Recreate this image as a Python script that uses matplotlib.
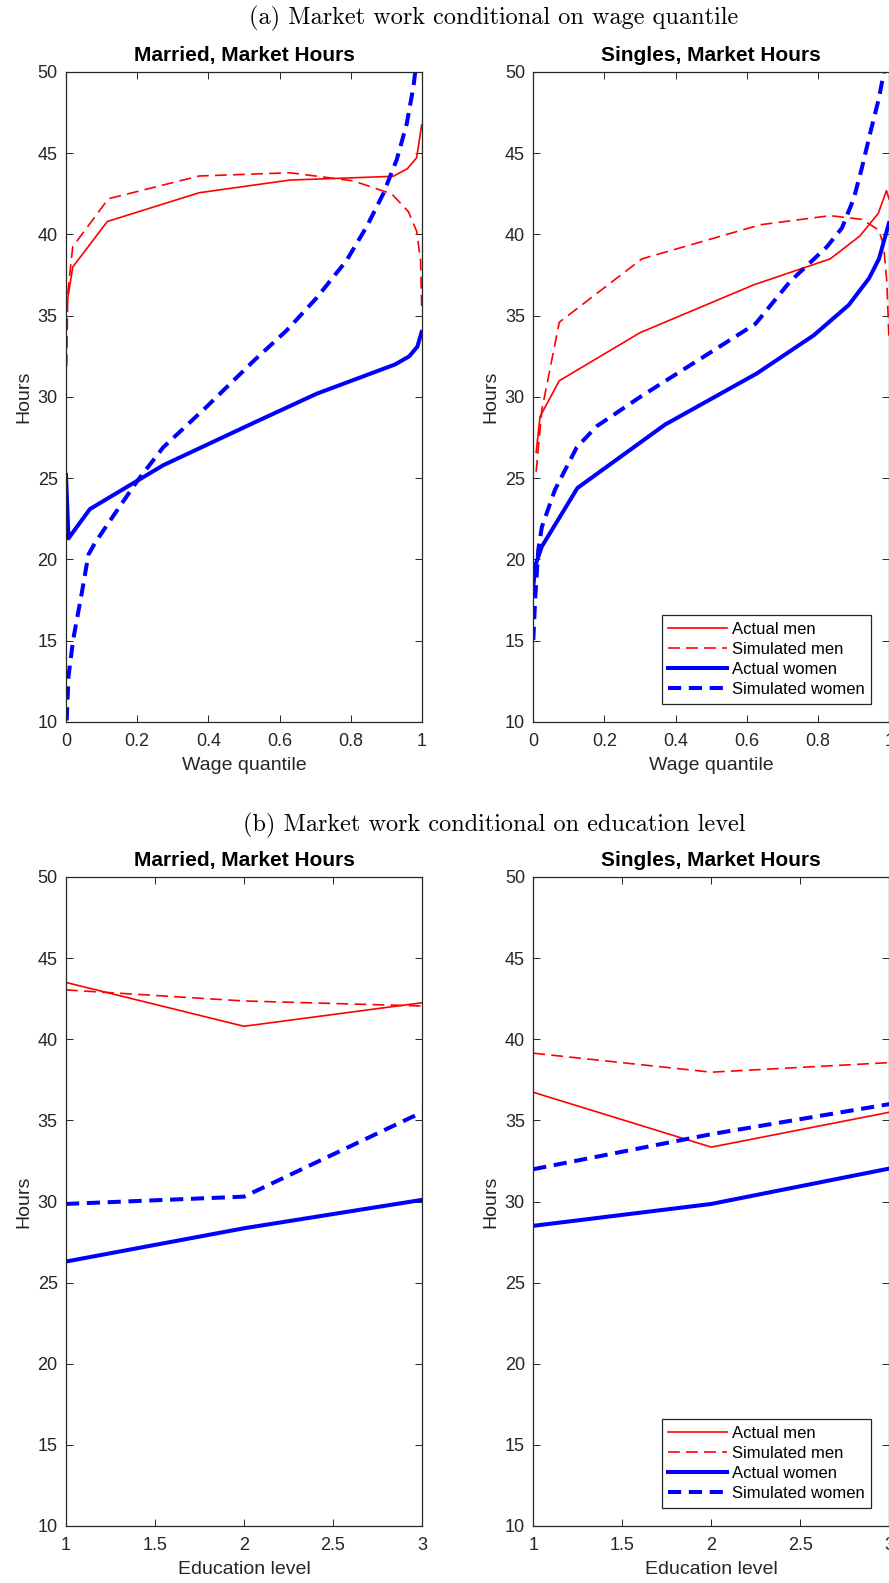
import matplotlib
matplotlib.use('Agg')
import matplotlib.pyplot as plt

plt.rcParams['font.family'] = ['Liberation Sans', 'DejaVu Sans']
plt.rcParams['lines.scale_dashes'] = False

# --- data -----------------------------------------------------------------
# (a) married, by wage quantile
mar_men_act_q = [0.003, 0.019, 0.116, 0.374, 0.629, 0.919, 0.959, 0.985, 0.999]
mar_men_act_h = [35.8, 38.0, 40.8, 42.57, 43.35, 43.58, 44.05, 44.73, 46.74]
mar_men_sim_q = [0.002, 0.005, 0.019, 0.119, 0.374, 0.629, 0.807, 0.915, 0.962, 0.985, 0.996, 0.999]
mar_men_sim_h = [31.9, 36.4, 39.25, 42.2, 43.6, 43.8, 43.3, 42.5, 41.4, 40.2, 38.4, 35.6]
mar_wom_act_q = [0.0, 0.007, 0.067, 0.273, 0.536, 0.704, 0.924, 0.964, 0.987, 0.999]
mar_wom_act_h = [25.2, 21.3, 23.1, 25.8, 28.5, 30.2, 32.0, 32.5, 33.1, 34.0]
mar_wom_sim_q = [0.002, 0.007, 0.02, 0.044, 0.063, 0.081, 0.124, 0.199, 0.273, 0.395,
                 0.526, 0.62, 0.704, 0.788, 0.845, 0.891, 0.929, 0.957, 0.976, 0.992, 0.999]
mar_wom_sim_h = [10.1, 12.8, 15.05, 17.9, 20.3, 21.0, 22.4, 24.8, 26.9, 29.4,
                 32.2, 34.1, 36.1, 38.4, 40.5, 42.5, 44.6, 46.8, 49.1, 52.0, 58.0]

# (a) singles, by wage quantile
sin_men_act_q = [0.008, 0.019, 0.073, 0.300, 0.619, 0.834, 0.917, 0.969, 0.992, 0.999]
sin_men_act_h = [26.6, 28.8, 31.0, 33.96, 36.9, 38.5, 39.9, 41.3, 42.7, 42.2]
sin_men_sim_q = [0.008, 0.024, 0.073, 0.305, 0.638, 0.834, 0.923, 0.970, 0.984, 0.993, 0.999]
sin_men_sim_h = [25.4, 29.2, 34.6, 38.5, 40.6, 41.16, 40.93, 40.28, 39.35, 37.1, 33.6]
sin_wom_act_q = [0.0, 0.005, 0.024, 0.124, 0.370, 0.628, 0.788, 0.886, 0.943, 0.971, 0.994, 0.999]
sin_wom_act_h = [18.3, 19.6, 20.8, 24.4, 28.3, 31.45, 33.8, 35.66, 37.3, 38.5, 40.3, 40.7]
sin_wom_sim_q = [0.0, 0.005, 0.014, 0.024, 0.061, 0.122, 0.178, 0.300, 0.624, 0.721,
                 0.825, 0.867, 0.9, 0.923, 0.947, 0.971, 0.985, 0.995, 0.999]
sin_wom_sim_h = [15.05, 17.5, 20.6, 22.0, 24.3, 26.9, 28.2, 30.0, 34.5, 37.1,
                 39.25, 40.4, 42.2, 44.1, 46.3, 48.4, 50.0, 53.0, 57.0]

# (b) by education level
edu = [1, 2, 3]
mar_men_act_e = [43.5, 40.8, 42.25]
mar_men_sim_e = [43.04, 42.36, 42.05]
mar_wom_act_e = [26.3, 28.35, 30.1]
mar_wom_sim_e = [29.85, 30.3, 35.5]
sin_men_act_e = [36.73, 33.35, 35.5]
sin_men_sim_e = [39.14, 37.97, 38.56]
sin_wom_act_e = [28.5, 29.85, 32.03]
sin_wom_sim_e = [31.99, 34.15, 36.0]

legend_labels = ['Actual men', 'Simulated men', 'Actual women', 'Simulated women']
wage_ticks = [0, 0.2, 0.4, 0.6, 0.8, 1]
wage_ticklabels = ['0', '0.2', '0.4', '0.6', '0.8', '1']
edu_ticks = [1, 1.5, 2, 2.5, 3]
edu_ticklabels = ['1', '1.5', '2', '2.5', '3']
hour_ticks = [10, 15, 20, 25, 30, 35, 40, 45, 50]

# --- figure ---------------------------------------------------------------
W, H = 889, 1583
fig = plt.figure(figsize=(W / 100, H / 100), dpi=100)
axcol = '#262626'


def make_ax(x0, ytop, ybot, w=356):
    return fig.add_axes([x0 / W, (H - ybot) / H, w / W, (ybot - ytop) / H])


def style(ax, title, xlabel, xticks, xticklabels, xlim):
    ax.set_xlim(xlim)
    ax.set_ylim(10, 50)
    ax.set_xticks(xticks)
    ax.set_xticklabels(xticklabels)
    ax.set_yticks(hour_ticks)
    ax.tick_params(direction='in', top=True, right=True, length=5, width=0.7,
                   colors=axcol, labelsize=13, pad=6)
    ax.tick_params(axis='x', pad=8)
    for s in ax.spines.values():
        s.set_color(axcol)
        s.set_linewidth(0.9)
    ax.set_title(title, fontsize=15, fontweight='bold', pad=8)
    ax.set_xlabel(xlabel, fontsize=14, color=axcol, labelpad=5)
    ax.set_ylabel('Hours', fontsize=14, color=axcol, labelpad=4)


def draw(ax, x, men_a, men_s, wom_a, wom_s, xm_a=None, xm_s=None, xw_a=None, xw_s=None):
    l1, = ax.plot(xm_a if xm_a is not None else x, men_a, color='red', lw=1.2)
    l2, = ax.plot(xm_s if xm_s is not None else x, men_s, color='red', lw=1.2,
                  dashes=(8.5, 4.5), dash_capstyle='butt')
    l3, = ax.plot(xw_a if xw_a is not None else x, wom_a, color='blue', lw=2.9)
    l4, = ax.plot(xw_s if xw_s is not None else x, wom_s, color='blue', lw=2.9,
                  dashes=(9.5, 5.5), dash_capstyle='butt')
    return [l1, l2, l3, l4]


def add_legend(ax, handles):
    leg = ax.legend(handles, legend_labels, loc='lower right',
                    bbox_to_anchor=(0.949, 0.028), borderaxespad=0,
                    fontsize=12, fancybox=False, edgecolor=axcol, framealpha=1,
                    handlelength=3.5, handletextpad=0.3, labelspacing=0.3,
                    borderpad=0.4)
    leg.get_frame().set_linewidth(0.9)


ax1 = make_ax(66, 72, 722)
draw(ax1, None, mar_men_act_h, mar_men_sim_h, mar_wom_act_h, mar_wom_sim_h,
     mar_men_act_q, mar_men_sim_q, mar_wom_act_q, mar_wom_sim_q)
style(ax1, 'Married, Market Hours', 'Wage quantile', wage_ticks, wage_ticklabels, (0, 1))

ax2 = make_ax(533.3, 72, 722)
h = draw(ax2, None, sin_men_act_h, sin_men_sim_h, sin_wom_act_h, sin_wom_sim_h,
         sin_men_act_q, sin_men_sim_q, sin_wom_act_q, sin_wom_sim_q)
style(ax2, 'Singles, Market Hours', 'Wage quantile', wage_ticks, wage_ticklabels, (0, 1))
add_legend(ax2, h)

ax3 = make_ax(66, 877, 1526)
draw(ax3, edu, mar_men_act_e, mar_men_sim_e, mar_wom_act_e, mar_wom_sim_e)
style(ax3, 'Married, Market Hours', 'Education level', edu_ticks, edu_ticklabels, (1, 3))

ax4 = make_ax(533.3, 877, 1526)
h = draw(ax4, edu, sin_men_act_e, sin_men_sim_e, sin_wom_act_e, sin_wom_sim_e)
style(ax4, 'Singles, Market Hours', 'Education level', edu_ticks, edu_ticklabels, (1, 3))
add_legend(ax4, h)

fig.text(494 / W, 1 - 18 / H, '(a) Market work conditional on wage quantile',
         family='cmr10', fontsize=17.5, ha='center', va='center')
fig.text(494 / W, 1 - 825 / H, '(b) Market work conditional on education level',
         family='cmr10', fontsize=17.5, ha='center', va='center')

fig.savefig('out.png', dpi=100)
